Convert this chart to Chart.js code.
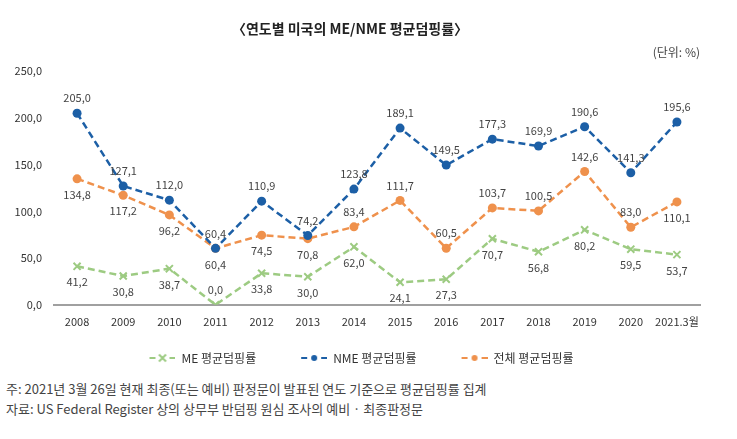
<!DOCTYPE html>
<html>
<head>
<meta charset="utf-8">
<script src="https://cdn.jsdelivr.net/npm/chart.js@4"></script>
<style>
  body { margin: 0; background: #fff; font-family: "Noto Sans CJK KR", sans-serif; }
  #wrap { position: relative; width: 737px; height: 439px; }
  #box { position: absolute; left: 0; top: 0; width: 737px; height: 374px; }
  .note { position: absolute; left: 6px; font-size: 13px; color: #444; }
</style>
</head>
<body>
<div id="wrap">
  <div id="box"><canvas id="chart"></canvas></div>
  <div class="note" style="top:379px">주: 2021년 3월 26일 현재 최종(또는 예비) 판정문이 발표된 연도 기준으로 평균덤핑률 집계</div>
  <div class="note" style="top:399px">자료: US Federal Register 상의 상무부 반덤핑 원심 조사의 예비 · 최종판정문</div>
</div>
<script>
  // ===== DATA =====
  const years = ["2008", "2009", "2010", "2011", "2012", "2013", "2014", "2015", "2016", "2017", "2018", "2019", "2020", "2021.3월"];
  const meRate = [41.2, 30.8, 38.7, 0.0, 33.8, 30.0, 62.0, 24.1, 27.3, 70.7, 56.8, 80.2, 59.5, 53.7];
  const nmeRate = [205.0, 127.1, 112.0, 60.4, 110.9, 74.2, 123.8, 189.1, 149.5, 177.3, 169.9, 190.6, 141.3, 195.6];
  const totalRate = [134.8, 117.2, 96.2, 60.4, 74.5, 70.8, 83.4, 111.7, 60.5, 103.7, 100.5, 142.6, 83.0, 110.1];
  const yTicks = [0, 50, 100, 150, 200, 250];

  // label above (1) or below (-1) each point
  const mePos = [-1, -1, -1, 1, -1, -1, -1, -1, -1, -1, -1, -1, -1, -1];
  const nmePos = [1, 1, 1, 1, 1, 1, 1, 1, 1, 1, 1, 1, 1, 1];
  const totalPos = [-1, -1, -1, -1, -1, -1, 1, 1, 1, 1, 1, 1, 1, -1];

  const GREEN = "#9dcb82", BLUE = "#1c5fa6", ORANGE = "#ef914c";
  const FONT = "'Noto Sans CJK KR', sans-serif";
  const fmt = v => v.toFixed(1).replace(".", ",");

  // legend swatch: blank gap, then short dash - marker - short dash
  const GAP = 23, SW = 26;
  function swatch(color, style) {
    const c = document.createElement("canvas");
    c.width = SW + GAP; c.height = 12;
    const g = c.getContext("2d");
    g.translate(GAP, 0);
    g.strokeStyle = color; g.lineWidth = 2;
    g.beginPath(); g.moveTo(0, 6); g.lineTo(6, 6); g.moveTo(20, 6); g.lineTo(26, 6); g.stroke();
    if (style === "cross") {
      g.beginPath();
      g.moveTo(9.5, 2.5); g.lineTo(16.5, 9.5); g.moveTo(16.5, 2.5); g.lineTo(9.5, 9.5); g.stroke();
    } else {
      g.fillStyle = color; g.beginPath(); g.arc(13, 6, 3, 0, Math.PI * 2); g.fill();
    }
    return c;
  }

  const pointLabels = {
    id: "pointLabels",
    afterDatasetsDraw(chart) {
      const ctx = chart.ctx;
      ctx.save();
      ctx.font = "11px " + FONT;
      ctx.fillStyle = "#444";
      ctx.textAlign = "center";
      ctx.textBaseline = "middle";
      chart.data.datasets.forEach((ds, i) => {
        chart.getDatasetMeta(i).data.forEach((pt, j) => {
          const dir = ds.labelPos[j];
          ctx.fillText(fmt(ds.data[j]), pt.x, pt.y + (dir > 0 ? -15 : 16));
        });
      });
      ctx.restore();
    }
  };

  new Chart(document.getElementById("chart"), {
    type: "line",
    data: {
      labels: years,
      datasets: [
        { label: "ME 평균덤핑률", data: meRate, labelPos: mePos, borderColor: GREEN, backgroundColor: GREEN,
          pointStyle: "crossRot", pointRadius: 5, pointBorderWidth: 2, legendIcon: swatch(GREEN, "cross") },
        { label: "NME 평균덤핑률", data: nmeRate, labelPos: nmePos, borderColor: BLUE, backgroundColor: BLUE,
          pointStyle: "circle", pointRadius: 4.5, pointBorderWidth: 0, legendIcon: swatch(BLUE, "dot") },
        { label: "전체 평균덤핑률", data: totalRate, labelPos: totalPos, borderColor: ORANGE, backgroundColor: ORANGE,
          pointStyle: "circle", pointRadius: 4.5, pointBorderWidth: 0, legendIcon: swatch(ORANGE, "dot") }
      ].map(d => Object.assign(d, { borderWidth: 2.5, borderDash: [7, 4], fill: false, tension: 0 }))
    },
    options: {
      responsive: true,
      maintainAspectRatio: false,
      animation: false,
      layout: { padding: { left: 0, right: 37, top: 14, bottom: 0 } },
      plugins: {
        title: {
          display: true,
          text: "〈연도별 미국의 ME/NME 평균덤핑률〉",
          color: "#222",
          font: { family: FONT, size: 14, weight: "bold" },
          padding: { top: 6, bottom: 4 }
        },
        subtitle: {
          display: true,
          text: "(단위: %)",
          align: "end",
          color: "#444",
          font: { family: FONT, size: 12 },
          padding: { top: 4, bottom: 12 }
        },
        legend: {
          position: "bottom",
          labels: {
            usePointStyle: true,
            pointStyleWidth: SW + GAP,
            color: "#333",
            font: { family: FONT, size: 12 },
            padding: 22,
            generateLabels(chart) {
              return chart.data.datasets.map((ds, i) => ({
                text: ds.label, pointStyle: ds.legendIcon, fontColor: "#333",
                strokeStyle: ds.borderColor, fillStyle: ds.borderColor, datasetIndex: i, hidden: false
              }));
            }
          }
        },
        tooltip: { enabled: false }
      },
      scales: {
        x: {
          offset: true,
          grid: { display: false },
          border: { display: true, color: "#a0a0a0", width: 2 },
          ticks: { color: "#333", font: { family: FONT, size: 11 }, padding: 2, maxRotation: 0, autoSkip: false }
        },
        y: {
          min: 0, max: 250,
          afterFit(s) { s.width = 54; },
          afterBuildTicks(s) { s.ticks = yTicks.map(v => ({ value: v })); },
          grid: { display: false },
          border: { display: false },
          ticks: { color: "#333", font: { family: FONT, size: 11 }, padding: 4, callback: v => fmt(v) }
        }
      }
    },
    plugins: [pointLabels]
  });
</script>
</body>
</html>
